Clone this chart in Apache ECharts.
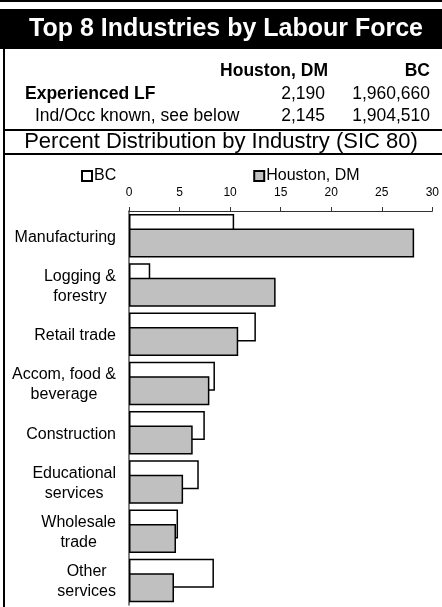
<!DOCTYPE html>
<html>
<head>
<meta charset="utf-8">
<script src="https://cdn.jsdelivr.net/npm/echarts@6/dist/echarts.min.js"></script>
<style>
  html, body { margin: 0; padding: 0; background: #fff; }
  #chart { width: 442px; height: 607px; }
</style>
</head>
<body>
<div id="chart"></div>
<script>
// header table
var tableHeaders = ["Houston, DM", "BC"];
var tableLabels = ["Experienced LF", "Ind/Occ known, see below"];
var houstonCounts = ["2,190", "2,145"];
var bcCounts = ["1,960,660", "1,904,510"];

// percent distribution by industry
var categories = [
  "Manufacturing",
  "Logging &\nforestry",
  "Retail trade",
  "Accom, food &\nbeverage",
  "Construction",
  "Educational\nservices",
  "Wholesale\ntrade",
  "Other\nservices"
];
var bcValues = [10.4, 2.1, 12.55, 8.5, 7.5, 6.9, 4.85, 8.4];
var houstonValues = [28.2, 14.5, 10.8, 7.95, 6.3, 5.35, 4.65, 4.45];

var font = "Liberation Sans, Arial, sans-serif";

var myChart = echarts.init(document.getElementById("chart"));

var graphics = [
  { type: "rect", shape: { x: 0, y: 0, width: 442, height: 2 }, style: { fill: "#000" } },
  { type: "rect", shape: { x: 0, y: 9, width: 442, height: 40 }, style: { fill: "#000" } },
  {
    type: "text", x: 226, y: 29,
    style: { text: "Top 8 Industries by Labour Force", fill: "#fff", font: "bold 25px " + font, align: "center", verticalAlign: "middle" }
  },
  { type: "rect", shape: { x: 3, y: 49, width: 2, height: 560 }, style: { fill: "#000" } },
  { type: "rect", shape: { x: 3, y: 129, width: 439, height: 2 }, style: { fill: "#000" } },
  { type: "rect", shape: { x: 3, y: 153, width: 439, height: 2 }, style: { fill: "#000" } },
  {
    type: "text", x: 221, y: 142,
    style: { text: "Percent Distribution by Industry (SIC 80)", fill: "#000", font: "22px " + font, align: "center", verticalAlign: "middle" }
  },
  {
    type: "text", x: 328, y: 71,
    style: { text: tableHeaders[0], fill: "#000", font: "bold 17.5px " + font, align: "right", verticalAlign: "middle" }
  },
  {
    type: "text", x: 430, y: 71,
    style: { text: tableHeaders[1], fill: "#000", font: "bold 17.5px " + font, align: "right", verticalAlign: "middle" }
  }
];

var rowY = [94, 116];
var rowX = [25, 35];
tableLabels.forEach(function (lbl, i) {
  graphics.push({
    type: "text", x: rowX[i], y: rowY[i],
    style: { text: lbl, fill: "#000", font: (i === 0 ? "bold " : "") + "17.5px " + font, verticalAlign: "middle" }
  });
  graphics.push({
    type: "text", x: 325, y: rowY[i],
    style: { text: houstonCounts[i], fill: "#000", font: "17.5px " + font, align: "right", verticalAlign: "middle" }
  });
  graphics.push({
    type: "text", x: 430, y: rowY[i],
    style: { text: bcCounts[i], fill: "#000", font: "17.5px " + font, align: "right", verticalAlign: "middle" }
  });
});

myChart.setOption({
  animation: false,
  textStyle: { fontFamily: font },
  graphic: graphics,
  legend: {
    data: ["BC", "Houston, DM"],
    left: 81,
    top: 168,
    padding: 0,
    icon: "rect",
    itemWidth: 10,
    itemHeight: 10,
    itemGap: 137,
    textStyle: { fontSize: 16, color: "#000", padding: [0, 0, 0, -3] }
  },
  grid: { left: 129, right: 8, top: 211, bottom: 2 },
  xAxis: {
    type: "value",
    position: "top",
    min: 0,
    max: 30,
    interval: 5,
    axisLine: { show: true, lineStyle: { color: "#333", width: 1 } },
    axisTick: { show: true, length: 4, lineStyle: { color: "#333" } },
    axisLabel: { fontSize: 12, color: "#000", margin: 12 },
    splitLine: { show: false }
  },
  yAxis: {
    type: "category",
    inverse: true,
    data: categories,
    axisLine: { show: true, lineStyle: { color: "#555", width: 1.5 } },
    axisTick: { show: false },
    axisLabel: {
      margin: 13,
      color: "#000",
      fontSize: 16,
      lineHeight: 20,
      padding: [3, 0, 0, 0],
      formatter: function (v) {
        return v.split("\n").map(function (s) { return "{c|" + s + "}"; }).join("\n");
      },
      rich: { c: { align: "center", fontSize: 16, lineHeight: 20, color: "#000" } }
    }
  },
  series: [
    {
      name: "BC",
      type: "bar",
      data: bcValues,
      barWidth: 29,
      barGap: "-50%",
      itemStyle: { color: "#fff", borderColor: "#000", borderWidth: 1.5 }
    },
    {
      name: "Houston, DM",
      type: "bar",
      data: houstonValues,
      barWidth: 29,
      barGap: "-50%",
      itemStyle: { color: "#c0c0c0", borderColor: "#000", borderWidth: 1.5 }
    }
  ]
});
</script>
</body>
</html>
